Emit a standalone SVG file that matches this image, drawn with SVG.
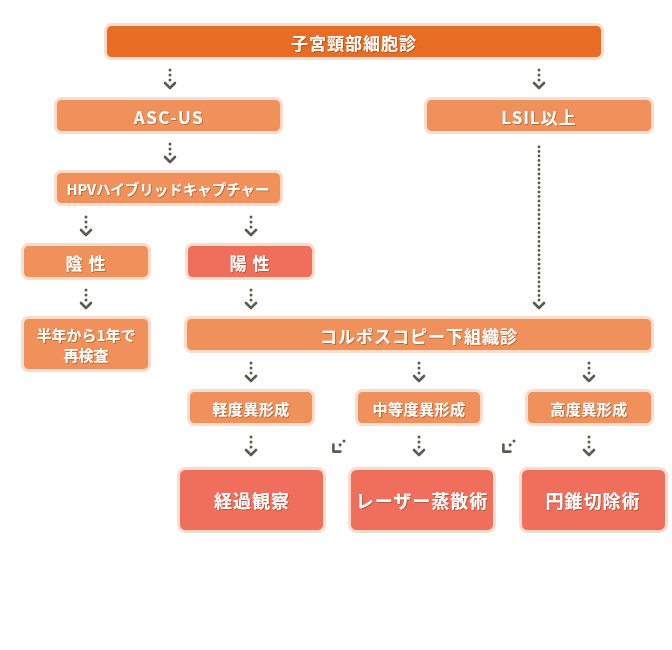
<svg xmlns="http://www.w3.org/2000/svg" xmlns:xlink="http://www.w3.org/1999/xlink" width="672" height="650" viewBox="0 0 672 650">
<style>
.box{stroke:#fcdccd;stroke-width:3}
.top{fill:#e96c25}
.org{fill:#f0905a}
.red{fill:#f06e5c}
text{font-family:"Noto Sans CJK JP","Liberation Sans",sans-serif;font-weight:bold;fill:#ffffff;text-anchor:middle;dominant-baseline:central}
.t17{font-size:17px;letter-spacing:1px}
.t16{font-size:16px}
.t15{font-size:15px;letter-spacing:0.5px}
.t18{font-size:18px;letter-spacing:1px}
.dot{fill:#5e5a50}
.chev{fill:none;stroke:#5e5a50;stroke-width:2.6;stroke-linecap:round;stroke-linejoin:round}
</style>
<defs>
<filter id="sh" x="-10%" y="-30%" width="120%" height="160%">
<feDropShadow dx="1" dy="1" stdDeviation="0.6" flood-color="#8a3a10" flood-opacity="0.45"/>
</filter>
<g id="arr">
<circle class="dot" cx="0" cy="0" r="1.5"/>
<circle class="dot" cx="0" cy="5" r="1.5"/>
<circle class="dot" cx="0" cy="10" r="1.5"/>
<polyline class="chev" points="-5,13 0,18 5,13"/>
</g>
<g id="arrs">
<circle class="dot" cx="0" cy="0" r="1.5"/>
<circle class="dot" cx="0" cy="5.5" r="1.5"/>
<polyline class="chev" points="-5,10 0,15 5,10"/>
</g>
</defs>
<rect width="672" height="650" fill="#ffffff"/>

<g id="connectors">
<use xlink:href="#arr" x="170" y="70"/>
<use xlink:href="#arr" x="539" y="70"/>
<use xlink:href="#arr" x="170" y="144"/>
<use xlink:href="#arr" x="86" y="217"/>
<use xlink:href="#arr" x="251" y="217"/>
<use xlink:href="#arr" x="86" y="290"/>
<use xlink:href="#arr" x="251" y="290"/>
<g id="long">
<line x1="539" y1="147" x2="539" y2="302" stroke="#5e5a50" stroke-width="2.8" stroke-linecap="round" stroke-dasharray="0 4.5"/>
<polyline class="chev" points="534,303 539,308 544,303"/>
</g>
<use xlink:href="#arr" x="251" y="363"/>
<use xlink:href="#arr" x="419" y="363"/>
<use xlink:href="#arr" x="589" y="363"/>
<use xlink:href="#arr" x="251" y="437"/>
<use xlink:href="#arr" x="419" y="437"/>
<use xlink:href="#arr" x="589" y="437"/>
<use xlink:href="#arrs" transform="translate(344,441) rotate(45)"/>
<use xlink:href="#arrs" transform="translate(514,441) rotate(45)"/>
</g>

<g id="n-cytology"><rect class="box top" x="105.5" y="24.5" width="497" height="34" rx="6"/><text class="t17" x="354" y="42" filter="url(#sh)">子宮頸部細胞診</text></g>
<g id="n-ascus"><rect class="box org" x="55.5" y="98.5" width="226" height="34" rx="6"/><text class="t17" x="169" y="116" filter="url(#sh)" style="letter-spacing:1.5px">ASC-US</text></g>
<g id="n-lsil"><rect class="box org" x="425.5" y="98.5" width="227" height="34" rx="6"/><text class="t17" x="539" y="116" filter="url(#sh)">LSIL以上</text></g>
<g id="n-hpv"><rect class="box org" x="55.5" y="171.5" width="226" height="33" rx="6"/><text x="168" y="188.5" filter="url(#sh)" style="font-size:14.5px">HPVハイブリッドキャプチャー</text></g>
<g id="n-neg"><rect class="box org" x="22.5" y="244.5" width="127" height="34" rx="6"/><text class="t17" x="86" y="262" filter="url(#sh)">陰 性</text></g>
<g id="n-pos"><rect class="box red" x="186.5" y="244.5" width="127" height="34" rx="6"/><text class="t17" x="250" y="262" filter="url(#sh)">陽 性</text></g>
<g id="n-recheck"><rect class="box org" x="22.5" y="317.5" width="127" height="53" rx="6"/><text x="86" y="334" filter="url(#sh)" style="font-size:15px">半年から1年で</text><text x="86" y="354" filter="url(#sh)" style="font-size:15px">再検査</text></g>
<g id="n-colpo"><rect class="box org" x="185.5" y="317.5" width="467" height="34" rx="6"/><text class="t17" x="419" y="335" filter="url(#sh)">コルポスコピー下組織診</text></g>
<g id="n-mild"><rect class="box org" x="188.5" y="390.5" width="125" height="34" rx="6"/><text class="t15" x="251" y="408" filter="url(#sh)">軽度異形成</text></g>
<g id="n-moderate"><rect class="box org" x="356.5" y="390.5" width="125" height="34" rx="6"/><text class="t15" x="419" y="408" filter="url(#sh)">中等度異形成</text></g>
<g id="n-severe"><rect class="box org" x="526.5" y="390.5" width="126" height="34" rx="6"/><text class="t15" x="589" y="408" filter="url(#sh)">高度異形成</text></g>
<g id="n-observe"><rect class="box red" x="178.5" y="468.5" width="146" height="63" rx="7"/><text class="t18" x="252" y="500" filter="url(#sh)">経過観察</text></g>
<g id="n-laser"><rect class="box red" x="349.5" y="468.5" width="145" height="63" rx="7"/><text class="t18" x="422" y="500" filter="url(#sh)">レーザー蒸散術</text></g>
<g id="n-conization"><rect class="box red" x="520.5" y="468.5" width="146" height="63" rx="7"/><text class="t18" x="593" y="500" filter="url(#sh)">円錐切除術</text></g>
</svg>
